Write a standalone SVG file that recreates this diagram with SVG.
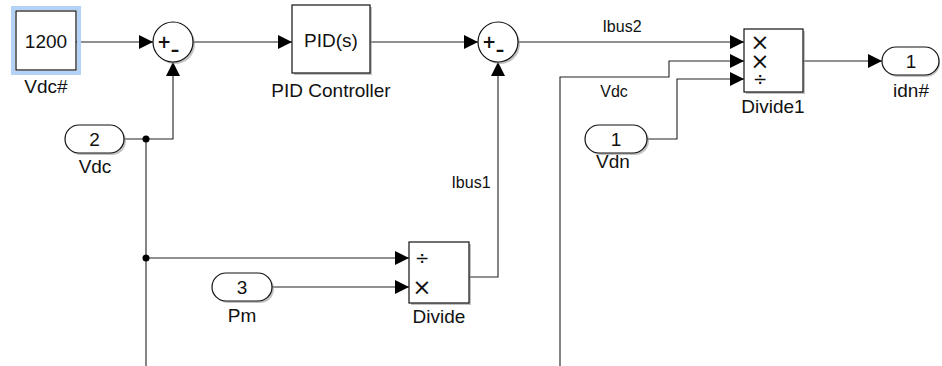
<svg xmlns="http://www.w3.org/2000/svg" width="942" height="366" viewBox="0 0 942 366">
<style>
.blk{fill:#fff;stroke:#111;stroke-width:1.2}
.sh{fill:#9a9a9a;opacity:0.6}
.ln{fill:none;stroke:#222;stroke-width:1.1}
.t{font-family:"Liberation Sans",Arial,sans-serif;font-size:19px;fill:#111;text-anchor:middle}
.s{font-family:"Liberation Sans",Arial,sans-serif;font-size:16px;fill:#111;text-anchor:middle}
.sym{font-family:"DejaVu Sans",sans-serif;fill:#111;text-anchor:middle}
.x{font-family:"DejaVu Sans",sans-serif;fill:#111;text-anchor:middle;font-size:23px}
</style>
<defs>
<marker id="ar" markerUnits="userSpaceOnUse" markerWidth="15" markerHeight="14" refX="14" refY="7" orient="auto">
<path d="M0,0 L14,7 L0,14 z" fill="#000"/>
</marker>
</defs>
<rect width="942" height="366" fill="#fff"/>

<g id="connectors">
<path class="ln" d="M76,42 H153" marker-end="url(#ar)"/>
<path class="ln" d="M193,42 H292" marker-end="url(#ar)"/>
<path class="ln" d="M370,42 H478" marker-end="url(#ar)"/>
<path class="ln" d="M518,42 H744" marker-end="url(#ar)"/>
<path class="ln" d="M124,139 H173 V62" marker-end="url(#ar)"/>
<path class="ln" d="M146,139 V366"/>
<path class="ln" d="M146,258 H409" marker-end="url(#ar)"/>
<path class="ln" d="M272,287 H409" marker-end="url(#ar)"/>
<path class="ln" d="M469,277 H498 V62" marker-end="url(#ar)"/>
<path class="ln" d="M560,366 V77 H669 V61 H744" marker-end="url(#ar)"/>
<path class="ln" d="M647,139 H677 V79 H744" marker-end="url(#ar)"/>
<path class="ln" d="M803,61 H882" marker-end="url(#ar)"/>
<circle cx="146" cy="139" r="3.5" fill="#000"/>
<circle cx="146" cy="258" r="3.5" fill="#000"/>
<text class="s" x="622" y="32">Ibus2</text>
<text class="s" x="614" y="97">Vdc</text>
<text class="s" x="471" y="188">Ibus1</text>
</g>

<g id="vdc_ref">
<rect x="13" y="8" width="66" height="65" fill="none" stroke="#b4d2f5" stroke-width="4"/>
<rect class="blk" x="16" y="11" width="60" height="59"/>
<text class="t" x="46" y="48">1200</text>
<text class="t" x="46" y="93">Vdc#</text>
</g>

<g id="sum1">
<circle cx="175" cy="44" r="20" class="sh"/>
<circle cx="173" cy="42" r="20" class="blk"/>
<text class="sym" x="164" y="48" font-size="17" font-weight="bold">+</text>
<text class="sym" x="175" y="56" font-size="17" font-weight="bold">–</text>
</g>

<g id="pid">
<rect class="sh" x="294" y="7" width="78" height="68"/>
<rect class="blk" x="292" y="5" width="78" height="68"/>
<text class="t" x="331" y="47">PID(s)</text>
<text class="t" x="331" y="97">PID Controller</text>
</g>

<g id="sum2">
<circle cx="500" cy="44" r="20" class="sh"/>
<circle cx="498" cy="42" r="20" class="blk"/>
<text class="sym" x="489" y="48" font-size="17" font-weight="bold">+</text>
<text class="sym" x="500" y="56" font-size="17" font-weight="bold">–</text>
</g>

<g id="in_vdc">
<rect class="sh" x="67" y="127" width="59" height="28" rx="14"/>
<rect class="blk" x="65" y="125" width="59" height="28" rx="14"/>
<text class="t" x="94.5" y="146">2</text>
<text class="t" x="95" y="173">Vdc</text>
</g>

<g id="in_pm">
<rect class="sh" x="214" y="275" width="60" height="28" rx="14"/>
<rect class="blk" x="212" y="273" width="60" height="28" rx="14"/>
<text class="t" x="242" y="294">3</text>
<text class="t" x="242" y="322">Pm</text>
</g>

<g id="divide">
<rect class="sh" x="411" y="244" width="60" height="61"/>
<rect class="blk" x="409" y="242" width="60" height="61"/>
<text class="sym" x="422" y="264" font-size="17">÷</text>
<text class="x" x="422" y="295">×</text>
<text class="t" x="439" y="323">Divide</text>
</g>

<g id="divide1">
<rect class="sh" x="746" y="31" width="59" height="63"/>
<rect class="blk" x="744" y="29" width="59" height="63"/>
<text class="x" x="760" y="50">×</text>
<text class="x" x="760" y="69">×</text>
<text class="sym" x="760" y="85" font-size="17">÷</text>
<text class="t" x="773" y="113">Divide1</text>
</g>

<g id="in_vdn">
<rect class="sh" x="587" y="127" width="62" height="28" rx="14"/>
<rect class="blk" x="585" y="125" width="62" height="28" rx="14"/>
<text class="t" x="616" y="146">1</text>
<text class="t" x="613" y="168">Vdn</text>
</g>

<g id="out_idn">
<rect class="sh" x="884" y="49" width="56" height="28" rx="14"/>
<rect class="blk" x="882" y="47" width="57" height="28" rx="14"/>
<text class="t" x="911" y="68">1</text>
<text class="t" x="911" y="97">idn#</text>
</g>
</svg>
